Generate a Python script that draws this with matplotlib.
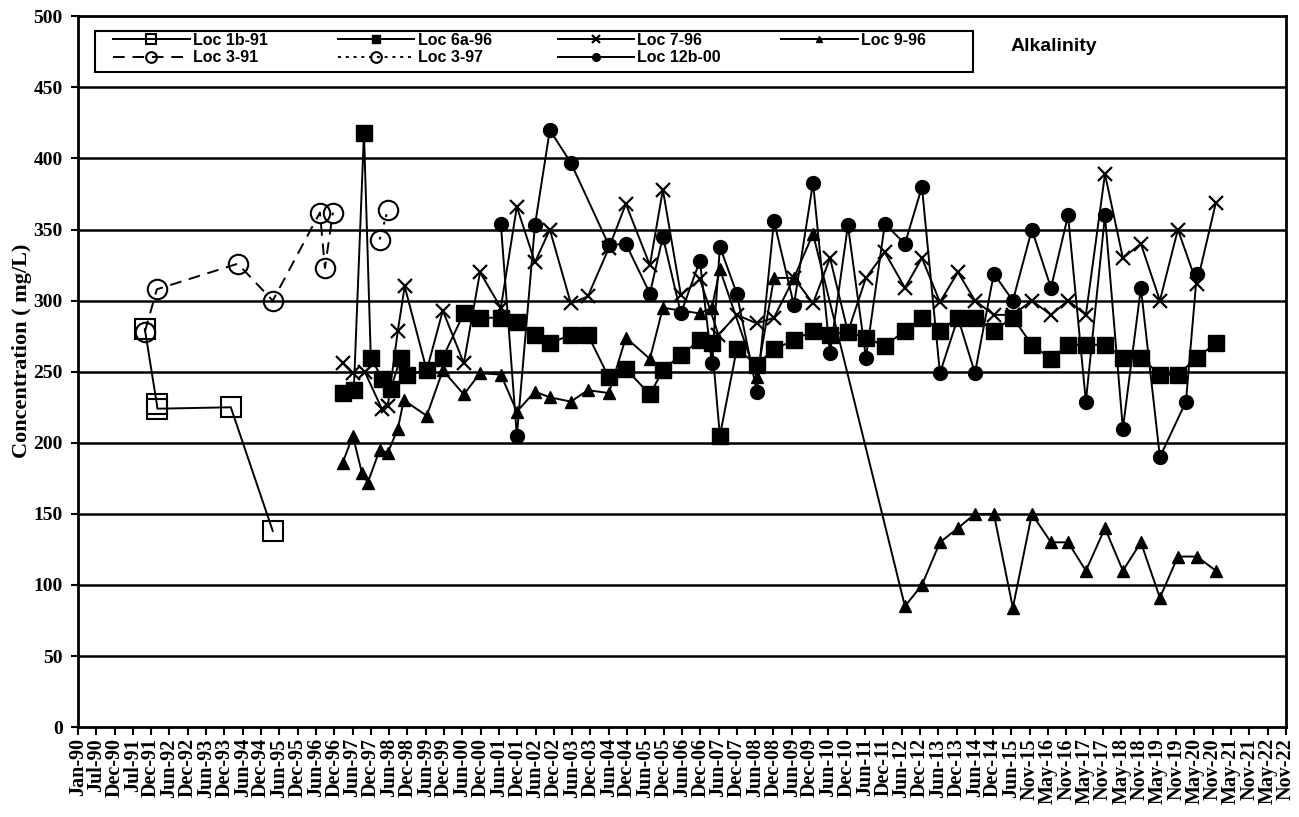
import matplotlib
matplotlib.use('Agg')
import matplotlib.pyplot as plt
import matplotlib.dates as mdates
from matplotlib.patches import Rectangle
import pandas as pd

# Loc 1b-91 (open squares)
loc1b_dates = ['1991-10-28', '1992-02-25', '1992-03-01', '1994-03-01', '1995-04-22']
loc1b_vals = [280, 227, 224, 225, 138]

# Loc 3-91 (open circles, dashed)
loc391_dates = ['1991-10-28', '1992-02-25', '1994-05-09', '1995-04-22',
                '1996-08-03', '1996-09-22', '1996-12-10']
loc391_vals = [278, 308, 326, 300, 362, 323, 362]

# Loc 3-97 (open circles, dotted)
loc397_dates = ['1998-03-20', '1998-06-09']
loc397_vals = [343, 364]

# Loc 6a-96 (filled squares)
loc6a_dates = ['1997-03-18', '1997-07-06', '1997-10-15', '1997-12-22', '1998-04-15',
               '1998-07-08', '1998-10-16', '1998-12-15', '1999-07-01', '1999-12-08',
               '2000-07-04', '2000-12-12', '2001-07-07', '2001-12-13', '2002-06-11',
               '2002-11-06', '2003-06-03', '2003-11-19', '2004-06-15', '2004-12-01',
               '2005-07-28', '2005-12-04', '2006-06-01', '2006-12-07', '2007-04-05',
               '2007-06-24', '2007-12-09', '2008-06-25', '2008-12-13', '2009-06-29',
               '2010-01-05', '2010-06-23', '2010-12-18', '2011-06-15', '2011-12-20',
               '2012-07-07', '2012-12-23', '2013-06-20', '2013-12-16', '2014-06-03',
               '2014-12-08', '2015-06-15', '2015-12-21', '2016-06-28', '2016-12-15',
               '2017-06-10', '2017-12-17', '2018-06-13', '2018-12-09', '2019-06-16',
               '2019-12-12', '2020-06-18', '2020-12-24']
loc6a_vals = [235, 237, 418, 260, 245, 238, 260, 248, 251, 260,
              291, 288, 288, 285, 276, 270, 276, 276, 246, 252,
              234, 251, 262, 272, 270, 205, 266, 255, 266, 272,
              279, 276, 278, 274, 268, 279, 288, 279, 288, 288,
              279, 288, 269, 259, 269, 269, 269, 260, 260, 248,
              248, 260, 270]

# Loc 7-96 (x markers)
loc7_dates = ['1997-03-18', '1997-06-26', '1997-10-23', '1998-04-10', '1998-06-09',
              '1998-09-17', '1998-11-24', '1999-07-01', '1999-12-08', '2000-07-04',
              '2000-12-12', '2001-07-07', '2001-12-13', '2002-06-11', '2002-11-06',
              '2003-06-03', '2003-11-19', '2004-06-15', '2004-12-01', '2005-07-28',
              '2005-12-04', '2006-06-01', '2006-12-07', '2007-06-10', '2007-12-09',
              '2008-06-25', '2008-12-13', '2009-06-29', '2010-01-05', '2010-06-23',
              '2010-12-18', '2011-06-15', '2011-12-20', '2012-07-07', '2012-12-23',
              '2013-06-20', '2013-12-16', '2014-06-03', '2014-12-08', '2015-06-15',
              '2015-12-21', '2016-06-28', '2016-12-15', '2017-06-10', '2017-12-17',
              '2018-06-13', '2018-12-09', '2019-06-16', '2019-12-12', '2020-06-18',
              '2020-12-24']
loc7_vals = [256, 249, 250, 224, 226, 279, 310, 251, 293, 256,
             320, 295, 366, 327, 350, 298, 303, 337, 368, 325,
             378, 304, 315, 276, 290, 284, 288, 316, 298, 330,
             278, 316, 334, 309, 330, 299, 320, 300, 290, 290,
             300, 290, 300, 290, 389, 330, 340, 300, 350, 312,
             369]

# Loc 9-96 (triangles)
loc9_dates = ['1997-03-18', '1997-06-26', '1997-09-24', '1997-11-22', '1998-03-20',
              '1998-06-09', '1998-09-17', '1998-11-15', '1999-07-01', '1999-12-08',
              '2000-07-04', '2000-12-12', '2001-07-07', '2001-12-13', '2002-06-11',
              '2002-11-06', '2003-06-03', '2003-11-19', '2004-06-15', '2004-12-01',
              '2005-07-28', '2005-12-04', '2006-12-07', '2007-04-05', '2007-06-24',
              '2008-06-25', '2008-12-13', '2009-06-29', '2010-01-05', '2012-07-07',
              '2012-12-23', '2013-06-20', '2013-12-16', '2014-06-03', '2014-12-08',
              '2015-06-15', '2015-12-21', '2016-06-28', '2016-12-15', '2017-06-10',
              '2017-12-17', '2018-06-13', '2018-12-09', '2019-06-16', '2019-12-12',
              '2020-06-18', '2020-12-24']
loc9_vals = [186, 205, 179, 172, 195, 193, 210, 230, 219, 251,
             234, 249, 248, 222, 236, 232, 229, 237, 235, 274,
             259, 295, 291, 295, 322, 246, 316, 316, 347, 85,
             100, 130, 140, 150, 150, 84, 150, 130, 130, 110,
             140, 110, 130, 91, 120, 120, 110]

# Loc 12b-00 (filled circles)
loc12_dates = ['2001-07-07', '2001-12-13', '2002-06-11', '2002-11-06', '2003-06-03',
               '2004-06-15', '2004-12-01', '2005-07-28', '2005-12-04', '2006-06-01',
               '2006-12-07', '2007-04-05', '2007-06-24', '2007-12-09', '2008-06-25',
               '2008-12-13', '2009-06-29', '2010-01-05', '2010-06-23', '2010-12-18',
               '2011-06-15', '2011-12-20', '2012-07-07', '2012-12-23', '2013-06-20',
               '2013-12-16', '2014-06-03', '2014-12-08', '2015-06-15', '2015-12-21',
               '2016-06-28', '2016-12-15', '2017-06-10', '2017-12-17', '2018-06-13',
               '2018-12-09', '2019-06-16', '2020-03-01', '2020-06-18']
loc12_vals = [354, 205, 353, 420, 397, 339, 340, 305, 345, 291,
              328, 256, 338, 305, 236, 356, 297, 383, 263, 353,
              260, 354, 340, 380, 249, 288, 249, 319, 300, 350,
              309, 360, 229, 360, 210, 309, 190, 229, 319]

fig, ax = plt.subplots(figsize=(12.99, 8.17), dpi=100)
fig.subplots_adjust(left=0.060, right=0.990, top=0.980, bottom=0.110)

for v in range(50, 500, 50):
    ax.axhline(v, color='black', lw=1.8, zorder=0)

d = pd.to_datetime
h1b, = ax.plot(d(loc1b_dates), loc1b_vals, '-', color='black', lw=1.4, marker='s', ms=14,
               mfc='none', mec='black', mew=1.5, label='Loc 1b-91')
h391, = ax.plot(d(loc391_dates), loc391_vals, color='black', lw=1.4, ls=(0, (6, 4)),
                marker='o', ms=14, mfc='none', mec='black', mew=1.5, label='Loc 3-91')
h6a, = ax.plot(d(loc6a_dates), loc6a_vals, '-', color='black', lw=1.4, marker='s', ms=11,
               mfc='black', mec='black', label='Loc 6a-96')
h397, = ax.plot(d(loc397_dates), loc397_vals, color='black', lw=1.4, ls=(0, (1.5, 2.5)),
                marker='o', ms=14, mfc='none', mec='black', mew=1.5, label='Loc 3-97')
h7, = ax.plot(d(loc7_dates), loc7_vals, '-', color='black', lw=1.4, marker='x', ms=10,
              mew=1.6, mec='black', label='Loc 7-96')
h12, = ax.plot(d(loc12_dates), loc12_vals, '-', color='black', lw=1.4, marker='o', ms=10,
               mfc='black', mec='black', label='Loc 12b-00')
h9, = ax.plot(d(loc9_dates), loc9_vals, '-', color='black', lw=1.4, marker='^', ms=9,
              mfc='black', mec='black', label='Loc 9-96')

start = pd.Timestamp('1990-01-01')
ticks = [start + pd.Timedelta(days=182 * k) for k in range(67)]
ax.set_xticks(ticks)
ax.xaxis.set_major_formatter(mdates.DateFormatter('%b-%y'))
ax.set_xlim(ticks[0], ticks[-1])
ax.set_ylim(0, 500)
ax.set_yticks(range(0, 501, 50))

for lab in ax.get_xticklabels():
    lab.set_rotation(90)
    lab.set_fontfamily('Liberation Serif')
    lab.set_fontweight('bold')
    lab.set_fontsize(14.5)
for lab in ax.get_yticklabels():
    lab.set_fontfamily('Liberation Serif')
    lab.set_fontweight('bold')
    lab.set_fontsize(14)
ax.tick_params(axis='x', direction='out', length=6, width=1.5, pad=2)
ax.tick_params(axis='y', direction='out', length=5, width=1.5, pad=6)

for s in ax.spines.values():
    s.set_linewidth(2)
    s.set_color('black')

ax.set_ylabel('Concentration ( mg/L)', fontfamily='Liberation Serif', fontweight='bold',
              fontsize=16)
ax.yaxis.set_label_coords(-0.038, 0.53)

# legend: frame drawn separately, one legend per column
ax.add_patch(Rectangle((0.014, 0.921), 0.727, 0.059, transform=ax.transAxes,
                       facecolor='white', edgecolor='black', lw=1.5, zorder=5))
columns = [[h1b, h391], [h6a, h397], [h7, h12], [h9]]
col_x = [0.027, 0.213, 0.395, 0.580]
for i, (hs, cx) in enumerate(zip(columns, col_x)):
    lg = ax.legend(handles=hs, loc='upper left', bbox_to_anchor=(cx, 0.980),
                   frameon=False, borderpad=0.15, borderaxespad=0, handlelength=4.8,
                   markerscale=0.55, labelspacing=0.15, handletextpad=0.2,
                   prop={'family': 'Liberation Sans', 'weight': 'bold', 'size': 11.5})
    lg.set_zorder(6)
    if i < len(columns) - 1:
        ax.add_artist(lg)

ax.text(0.772, 0.958, 'Alkalinity', transform=ax.transAxes, fontfamily='Liberation Sans',
        fontweight='bold', fontsize=14, va='center', ha='left')

fig.savefig('out.png', dpi=100)
